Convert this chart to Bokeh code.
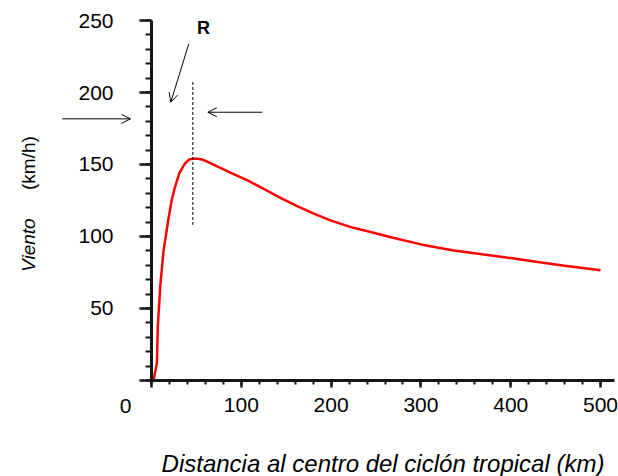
from math import pi
from bokeh.plotting import figure
from bokeh.models import FixedTicker, Label, Arrow, OpenHead, Range1d
from bokeh.embed import file_html
from bokeh.resources import INLINE

# Data
distance_km = [2.5, 6, 7, 9.8, 13.4, 18.8, 22.4, 26, 31, 37, 42, 46, 52, 56, 64, 72,
               89, 107, 125, 143, 161, 180, 200, 222, 245, 270, 300, 335, 370, 400,
               430, 460, 500]
wind_kmh = [1, 12, 37, 66, 90, 112, 125, 134, 144, 150.5, 153.5, 154, 154, 153.5, 151.5, 149,
            144, 139, 133, 127, 121.5, 116, 111, 106.5, 103, 99, 94.5, 90.5, 87.5, 85,
            82.3, 79.7, 76.5]
radius_max_wind_km = 46

x_ticks = [0, 100, 200, 300, 400, 500]
x_minor = list(range(0, 501, 20))
y_ticks = [0, 50, 100, 150, 200, 250]
y_minor = list(range(0, 251, 10))

FONT = "Liberation Sans"

# the frame covers the whole canvas; axes are pinned at x=0 / y=0
p = figure(width=618, height=476, x_range=Range1d(-168.15, 520), y_range=Range1d(-66.7, 263.9),
           output_backend="svg", toolbar_location=None,
           min_border=0, min_border_left=0, min_border_right=0, min_border_top=0,
           min_border_bottom=0)
p.outline_line_color = None
p.xgrid.visible = False
p.ygrid.visible = False
p.background_fill_color = "white"
p.border_fill_color = "white"

p.line(distance_km, wind_kmh, line_color="#ff0000", line_width=2.5)

# dashed vertical line at R
p.segment(x0=[radius_max_wind_km], y0=[108], x1=[radius_max_wind_km], y1=[208],
          line_color="black", line_width=1, line_dash="3 2")

# axes
xa = p.xaxis[0]
xa.ticker = FixedTicker(ticks=x_ticks, minor_ticks=x_minor)
xa.fixed_location = 0
xa.bounds = (0, 515)
xa.major_label_overrides = {0: ""}
ya = p.yaxis[0]
ya.ticker = FixedTicker(ticks=y_ticks, minor_ticks=y_minor)
ya.fixed_location = 0
ya.bounds = (0, 250)
ya.major_label_overrides = {0: ""}

for ax in (xa, ya):
    ax.axis_line_width = 3
    ax.axis_line_color = "#151515"
    ax.major_tick_in = 0
    ax.minor_tick_in = 0
    ax.major_tick_line_width = 2.5
    ax.minor_tick_line_width = 2
    ax.major_tick_line_color = "#151515"
    ax.minor_tick_line_color = "#151515"
    ax.major_label_text_font = FONT
    ax.major_label_text_font_size = "21px"
    ax.major_label_text_color = "black"

xa.major_tick_out = 7
xa.minor_tick_out = 4
xa.major_label_standoff = 11
xa.axis_label = "Distancia al centro del ciclón tropical (km)"
xa.axis_label_text_font = FONT
xa.axis_label_text_font_style = "italic"
xa.axis_label_text_font_size = "24px"
xa.axis_label_text_color = "black"
xa.axis_label_standoff = 34

ya.major_tick_out = 12
ya.minor_tick_out = 6
ya.major_label_standoff = 26

# the origin label sits left of the y axis in the original
p.add_layout(Label(x=-29, y=-17.4, text="0", text_align="center", text_baseline="middle",
                   text_font=FONT, text_font_size="21px", text_color="black"))

# y-axis title in two parts (italic + normal)
p.add_layout(Label(x=-137, y=94, text="Viento", angle=pi / 2, text_align="center",
                   text_baseline="middle", text_font=FONT, text_font_size="19px",
                   text_font_style="italic", text_color="black"))
p.add_layout(Label(x=-137, y=151, text="(km/h)", angle=pi / 2, text_align="center",
                   text_baseline="middle", text_font=FONT, text_font_size="19px",
                   text_color="black"))

# R annotation and arrows
p.add_layout(Label(x=58, y=245, text="R", text_align="center", text_baseline="middle",
                   text_font=FONT, text_font_size="18px", text_font_style="bold",
                   text_color="black"))
for (xs, ys, xe, ye) in [(41.5, 233.8, 21.5, 193.3), (-99.4, 181.7, -23.4, 181.7),
                         (123.3, 186.3, 62.7, 186.3)]:
    p.add_layout(Arrow(x_start=xs, y_start=ys, x_end=xe, y_end=ye, line_width=1,
                       line_color="black",
                       end=OpenHead(size=9, line_width=1, line_color="black")))

open("out.html", "w").write(file_html(p, INLINE))
